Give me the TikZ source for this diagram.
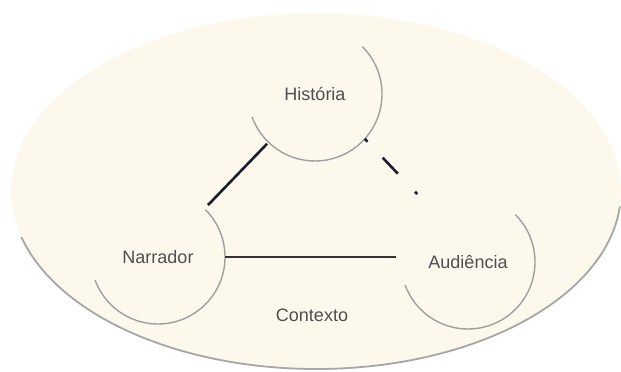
\documentclass[tikz,border=0pt]{standalone}
\usepackage{fontspec}
\setmainfont{Liberation Sans}
\usepackage{tikz}
\usetikzlibrary{calc}

\definecolor{cream}{RGB}{252,249,236}
\definecolor{labelgray}{RGB}{78,78,78}
\definecolor{linknavy}{RGB}{28,28,48}

\tikzset{
    ring/.style={circle, minimum size=134pt, inner sep=0pt, outer sep=0pt,
        text=labelgray, font=\fontsize{18}{20}\selectfont},
    ringarc/.style={draw=gray!75, line width=1.4pt},
    link/.style={draw=linknavy, line width=2.6pt}
}

\begin{document}
\begin{tikzpicture}[x=1pt, y=1pt]
    \useasboundingbox (0,0) rectangle (621,372);

    % background ellipse (the context)
    \fill[cream] (316,181) ellipse [x radius=305, y radius=178];
    \draw[gray!70, line width=1.8pt] (316,181) ++(-5:305 and 178)
        arc [start angle=-5, end angle=-165, x radius=305, y radius=178];

    \node[ring] (his) at (315,278) {História};
    \node[ring] (nar) at (158,115) {Narrador};
    \node[ring] (aud) at (468,110) {Audiência};
    \node[text=labelgray, font=\fontsize{18}{20}\selectfont] (ctx) at (312,57) {Contexto};

    % shadow arcs of the circles
    \draw[ringarc] (his.45) arc [start angle=45, end angle=-160, radius=67];
    \draw[ringarc] (nar.45) arc [start angle=45, end angle=-160, radius=67];
    \draw[ringarc] (aud.45) arc [start angle=45, end angle=-160, radius=67];

    \path
        (nar)
            edge [link, shorten <=5pt, shorten >=2pt] node {} (his)
        (his.-42)
            edge [link, shorten >=18pt,
                  dash pattern=on 4pt off 22pt on 22pt off 25pt on 4pt] node {} (aud.125)
    ;
    \draw[link, draw=black!80, shorten >=5pt] (nar.east) -- (nar.east -| aud.west);
\end{tikzpicture}
\end{document}
